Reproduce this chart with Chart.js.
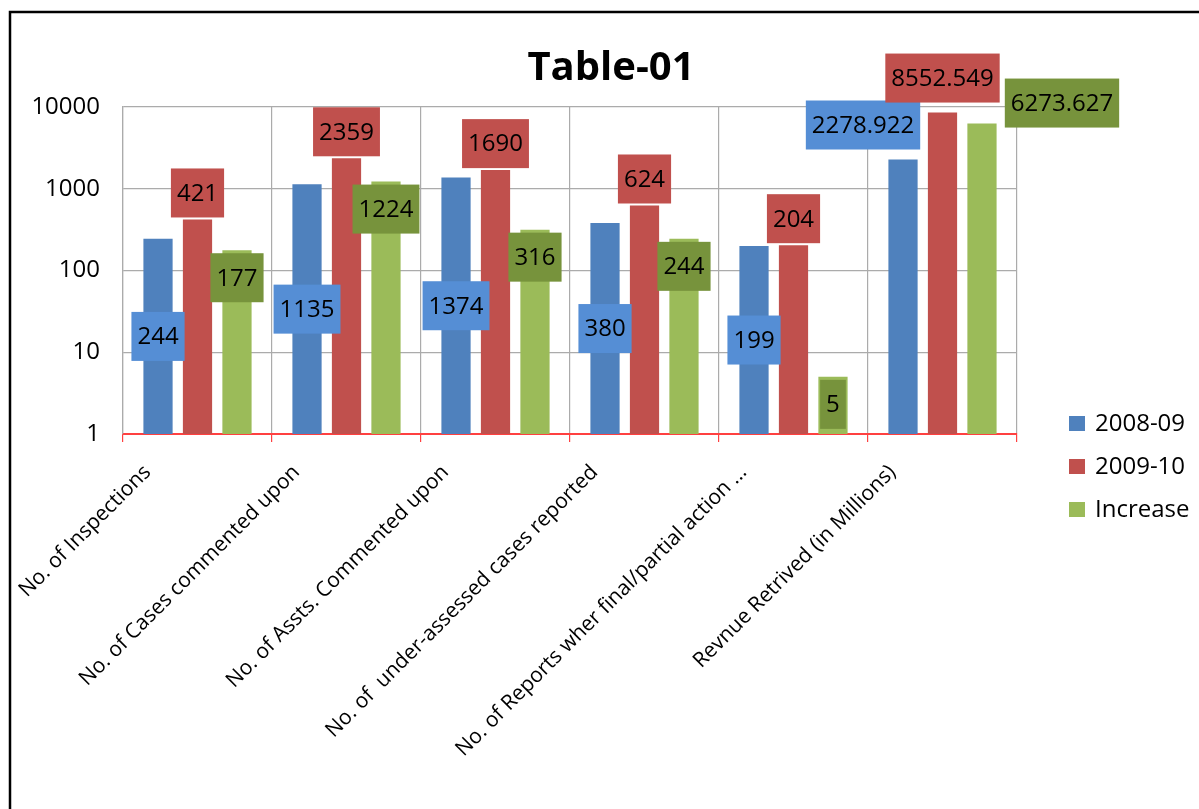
<!DOCTYPE html>
<html>
<head>
<meta charset="utf-8">
<script src="https://cdn.jsdelivr.net/npm/chart.js@4/dist/chart.umd.min.js"></script>
<style>
html,body{margin:0;padding:0;background:#fff;}
#wrap{width:1199px;height:809px;}
</style>
</head>
<body>
<div id="wrap"><canvas id="c" width="1199" height="809"></canvas></div>
<script>
// ---- data ----
const categories = [
  "No. of Inspections",
  "No. of Cases commented upon",
  "No. of Assts. Commented upon",
  "No. of  under-assessed cases reported",
  "No. of Reports wher final/partial action ...",
  "Revnue Retrived (in Millions)"
];
const seriesNames = ["2008-09", "2009-10", "Increase"];
const values2008 = [244, 1135, 1374, 380, 199, 2278.922];
const values2009 = [421, 2359, 1690, 624, 204, 8552.549];
const valuesIncrease = [177, 1224, 316, 244, 5, 6273.627];
const yTicks = [1, 10, 100, 1000, 10000];

// ---- styles ----
const barColors = ["#4F81BD", "#C0504D", "#9BBB59"];
const labelBg = ["#558ED5", "#C0504D", "#77933C"];
const labelMode = ["center", "outside", "inside"];
// manual nudges for crowded labels (dataset -> index -> tweak)
const labelAdjust = {
  0: {5: {mode: "outside", dx: -40, dy: -8}},
  1: {5: {dy: -8}},
  2: {5: {mode: "outside", dx: 80, dy: 6}}
};
const FONT = '"Open Sans", "Noto Sans", sans-serif';

const bgPlugin = {
  id: "bgBorder",
  beforeDraw(chart) {
    const ctx = chart.ctx;
    ctx.save();
    ctx.fillStyle = "#fff";
    ctx.fillRect(0, 0, chart.width, chart.height);
    ctx.strokeStyle = "#000";
    ctx.lineWidth = 2.5;
    ctx.beginPath();
    ctx.moveTo(chart.width, 12);
    ctx.lineTo(10, 12);
    ctx.lineTo(10, chart.height);
    ctx.stroke();
    ctx.restore();
  }
};

const labelPlugin = {
  id: "boxLabels",
  afterDatasetsDraw(chart) {
    const ctx = chart.ctx;
    ctx.save();
    ctx.font = "24px " + FONT;
    ctx.textAlign = "center";
    ctx.textBaseline = "middle";
    chart.data.datasets.forEach((ds, di) => {
      const meta = chart.getDatasetMeta(di);
      meta.data.forEach((bar, j) => {
        const txt = String(ds.data[j]);
        const adj = (labelAdjust[di] || {})[j] || {};
        const mode = adj.mode || labelMode[di];
        const w = ctx.measureText(txt).width + 12, h = 49;
        const p = bar.getProps(["x", "y", "base"], true);
        let cy;
        if (mode === "center") cy = (p.y + p.base) / 2;
        else if (mode === "outside") cy = p.y - 2 - h / 2;
        else cy = p.y + 3 + h / 2;
        const cx = p.x + (adj.dx || 0);
        cy += (adj.dy || 0);
        ctx.fillStyle = labelBg[di];
        ctx.fillRect(cx - w / 2, cy - h / 2, w, h);
        ctx.fillStyle = "#000";
        ctx.fillText(txt, cx, cy + 1);
      });
    });
    ctx.restore();
  }
};

const legendPlugin = {
  id: "sideLegend",
  afterDraw(chart) {
    const ctx = chart.ctx;
    ctx.save();
    ctx.font = "24px " + FONT;
    ctx.textAlign = "left";
    ctx.textBaseline = "middle";
    chart.data.datasets.forEach((ds, i) => {
      const top = 416 + i * 43;
      ctx.fillStyle = ds.backgroundColor;
      ctx.fillRect(1069, top, 16, 15);
      ctx.fillStyle = "#000";
      ctx.fillText(ds.label, 1095, top + 8);
    });
    ctx.restore();
  }
};

new Chart(document.getElementById("c"), {
  type: "bar",
  data: {
    labels: categories,
    datasets: [
      {label: seriesNames[0], data: values2008, backgroundColor: barColors[0]},
      {label: seriesNames[1], data: values2009, backgroundColor: barColors[1]},
      {label: seriesNames[2], data: valuesIncrease, backgroundColor: barColors[2]}
    ]
  },
  options: {
    responsive: false,
    devicePixelRatio: 1,
    animation: false,
    categoryPercentage: 0.795,
    barPercentage: 0.74,
    layout: {padding: {left: 23, right: 0, top: 0, bottom: 0}},
    plugins: {
      legend: {display: false},
      tooltip: {enabled: false},
      title: {
        display: true,
        text: "Table-01",
        color: "#000",
        font: {family: FONT, size: 40, weight: "bold", lineHeight: 1.2},
        padding: {top: 45, bottom: 14}
      }
    },
    scales: {
      x: {
        grid: {display: true, offset: true, color: "#ABABAB", tickColor: "#FF4040", tickLength: 8, lineWidth: 1.2},
        border: {display: true, color: "#FF4040", width: 2},
        ticks: {
          color: "#000",
          font: {family: FONT, size: 21},
          minRotation: 45, maxRotation: 45,
          autoSkip: false,
          padding: 18,
          labelOffset: -50
        },
        afterFit(s) { s.height = 375; }
      },
      y: {
        type: "logarithmic",
        min: 1, max: 10000,
        grid: {color: "#ABABAB", drawTicks: false, lineWidth: 1.2},
        border: {display: true, color: "#ABABAB", width: 1.2},
        ticks: {
          color: "#000",
          font: {family: FONT, size: 24},
          padding: 23,
          callback: (v) => String(v)
        },
        afterBuildTicks(s) { s.ticks = yTicks.map(v => ({value: v})); },
        afterFit(s) { s.width = 100; }
      },
      y2: {
        type: "linear",
        position: "right",
        display: true,
        grid: {display: false, drawOnChartArea: false, drawTicks: false},
        border: {display: false},
        ticks: {display: false},
        afterFit(s) { s.width = 182; }
      }
    }
  },
  plugins: [bgPlugin, labelPlugin, legendPlugin]
});
</script>
</body>
</html>
